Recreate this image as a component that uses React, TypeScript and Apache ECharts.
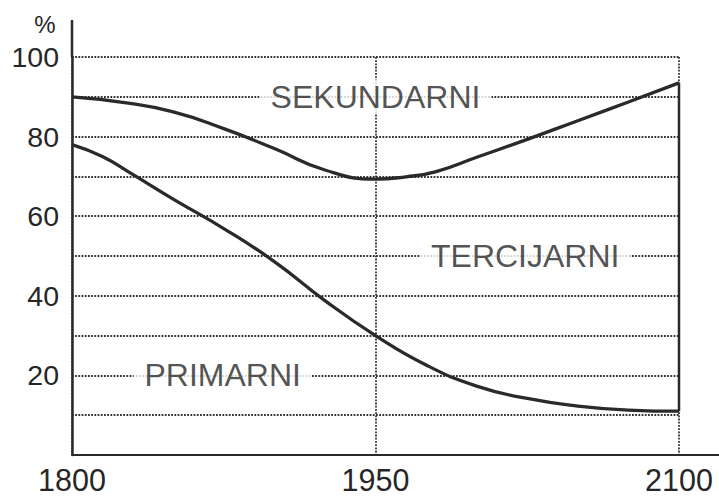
import React, { useEffect, useRef } from "react";
import * as echarts from "echarts";

// Boundary between PRIMARNI (below) and TERCIJARNI (above)
const lowerLine: [number, number][] = [
  [1800, 78], [1815, 75], [1830, 70.5], [1850, 64.3], [1875, 56.9], [1900, 48.6],
  [1925, 38.8], [1950, 30], [1975, 22.6], [2000, 17.3], [2025, 14.2], [2050, 12.3],
  [2075, 11.3], [2100, 11],
];
// Boundary between TERCIJARNI (below) and SEKUNDARNI (above)
const upperLine: [number, number][] = [
  [1800, 90], [1825, 88.6], [1850, 86.2], [1875, 82], [1900, 77], [1925, 71.6],
  [1950, 69.3], [1965, 69.9], [1980, 71.2], [2000, 74.8], [2025, 79.3], [2050, 84],
  [2075, 88.7], [2100, 93.5],
];
const xTicks = [1800, 1950, 2100];
const yTickLabels = [20, 40, 60, 80, 100];
const sectorLabels: { name: string; value: [number, number] }[] = [
  { name: "SEKUNDARNI", value: [1950, 90] },
  { name: "TERCIJARNI", value: [2024, 50] },
  { name: "PRIMARNI", value: [1874.5, 20] },
];

const FONT = "'Liberation Sans', Arial, sans-serif";
const INK = "#2a2a2a";
const DOT = "#333333";
const TXT = "#262626";

export default function App() {
  const ref = useRef<HTMLDivElement>(null);
  useEffect(() => {
    if (!ref.current) return;
    const chart = echarts.init(ref.current, null, { renderer: "svg" });
    const gridLeft = 72, gridRight = 40, gridTop = 57, gridBottom = 41;
    const W = 719, H = 496;
    const dotted = { color: DOT, width: 1.8, type: [1.8, 1.4] as number[] };
    chart.setOption({
      animation: false,
      backgroundColor: "#fff",
      grid: { left: gridLeft, right: gridRight, top: gridTop, bottom: gridBottom },
      xAxis: {
        type: "value",
        min: xTicks[0],
        max: xTicks[xTicks.length - 1],
        interval: xTicks[1] - xTicks[0],
        axisLine: { show: true, lineStyle: { color: INK, width: 2 } },
        axisTick: { show: false },
        axisLabel: {
          fontSize: 30.5, color: TXT, fontFamily: FONT, margin: 9,
          formatter: (v: number) => (xTicks.includes(v) ? String(v) : ""),
        },
        splitLine: { show: true, lineStyle: dotted },
      },
      yAxis: {
        type: "value",
        min: 0,
        max: 100,
        interval: 10,
        axisLine: { show: true, onZero: false, lineStyle: { color: INK, width: 2.5 } },
        axisTick: { show: false },
        axisLabel: {
          fontSize: 28.5, color: TXT, fontFamily: FONT, margin: 13,
          formatter: (v: number) => (yTickLabels.includes(v) ? String(v) : ""),
        },
        splitLine: { show: true, lineStyle: dotted },
      },
      graphic: [
        { type: "line", shape: { x1: gridLeft, y1: 20, x2: gridLeft, y2: gridTop }, style: { stroke: INK, lineWidth: 2.5 } },
        { type: "line", shape: { x1: W - gridRight, y1: H - gridBottom, x2: W, y2: H - gridBottom }, style: { stroke: INK, lineWidth: 2 } },
        { type: "text", x: 45, y: 24, style: { text: "%", fontSize: 24, fontFamily: FONT, fill: TXT, align: "center", verticalAlign: "middle" } },
      ],
      series: [
        {
          type: "line", data: lowerLine, smooth: true, symbol: "none",
          lineStyle: { color: INK, width: 3.3 }, z: 3,
        },
        {
          type: "line", data: upperLine, smooth: true, symbol: "none",
          lineStyle: { color: INK, width: 3.3 }, z: 3,
        },
        {
          type: "line",
          data: [lowerLine[lowerLine.length - 1], upperLine[upperLine.length - 1]],
          symbol: "none",
          lineStyle: { color: INK, width: 2.5 }, z: 3,
        },
        {
          type: "scatter", data: sectorLabels, symbolSize: 1,
          itemStyle: { color: "rgba(0,0,0,0)" }, z: 4,
          label: {
            show: true, position: "inside", formatter: (p: any) => p.name,
            fontSize: 32, fontFamily: FONT, color: TXT,
            backgroundColor: "#fff", padding: [2, 11, 0, 11],
          },
        },
      ],
    });
    return () => chart.dispose();
  }, []);
  return <div ref={ref} style={{ width: 719, height: 496, position: "absolute", left: 0, top: 0 }} />;
}
